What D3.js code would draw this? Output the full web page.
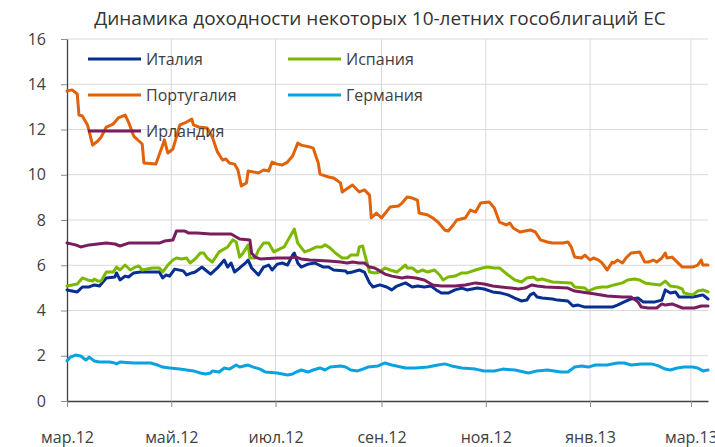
<!DOCTYPE html>
<html>
<head>
<meta charset="utf-8">
<script src="https://cdn.jsdelivr.net/npm/d3@7"></script>
<style>
  body { margin: 0; background: #fff; }
  svg { display: block; font-family: "Open Sans", sans-serif; }
</style>
</head>
<body>
<svg id="chart" width="715" height="447"></svg>
<script>
// доходности 10-летних облигаций, %
const italy = [
  ["2012-03-01",4.91],["2012-03-07",4.82],["2012-03-10",5.04],["2012-03-14",5.04],["2012-03-17",5.13],
  ["2012-03-20",5.08],["2012-03-24",5.44],["2012-03-29",5.48],["2012-03-30",5.66],["2012-04-01",5.35],
  ["2012-04-04",5.52],["2012-04-06",5.48],["2012-04-09",5.66],["2012-04-13",5.70],["2012-04-24",5.70],
  ["2012-04-26",5.44],["2012-04-28",5.57],["2012-04-30",5.52],["2012-05-03",5.83],["2012-05-08",5.75],
  ["2012-05-10",5.57],["2012-05-13",5.66],["2012-05-15",5.70],["2012-05-19",5.92],["2012-05-21",5.79],
  ["2012-05-24",5.61],["2012-05-28",5.88],["2012-06-01",6.23],["2012-06-03",5.92],["2012-06-05",6.10],
  ["2012-06-07",5.70],["2012-06-10",5.88],["2012-06-14",6.14],["2012-06-15",6.23],["2012-06-17",5.88],
  ["2012-06-21",5.57],["2012-06-24",5.92],["2012-06-27",6.01],["2012-06-29",5.79],["2012-07-02",6.05],
  ["2012-07-05",6.10],["2012-07-08",6.01],["2012-07-11",6.45],["2012-07-12",6.54],["2012-07-14",6.10],
  ["2012-07-16",5.92],["2012-07-20",6.05],["2012-07-24",6.10],["2012-07-29",5.92],["2012-08-01",5.92],
  ["2012-08-04",5.79],["2012-08-11",5.75],["2012-08-12",5.66],["2012-08-15",5.70],["2012-08-19",5.79],
  ["2012-08-22",5.70],["2012-08-25",5.22],["2012-08-27",5.04],["2012-08-31",5.13],["2012-09-04",5.04],
  ["2012-09-07",4.91],["2012-09-10",5.08],["2012-09-15",5.22],["2012-09-19",5.04],["2012-09-22",5.08],
  ["2012-09-26",5.04],["2012-09-30",5.08],["2012-10-03",4.91],["2012-10-06",4.77],["2012-10-10",4.77],
  ["2012-10-14",4.91],["2012-10-18",4.99],["2012-10-21",4.91],["2012-10-27",4.99],["2012-10-31",4.95],
  ["2012-11-05",4.82],["2012-11-10",4.77],["2012-11-14",4.69],["2012-11-18",4.55],["2012-11-22",4.42],
  ["2012-11-25",4.46],["2012-11-27",4.69],["2012-11-29",4.77],["2012-12-01",4.60],["2012-12-04",4.55],
  ["2012-12-10",4.51],["2012-12-13",4.46],["2012-12-19",4.42],["2012-12-22",4.20],["2012-12-25",4.24],
  ["2012-12-29",4.15],["2013-01-08",4.15],["2013-01-14",4.15],["2013-01-17",4.24],["2013-01-21",4.38],
  ["2013-01-25",4.51],["2013-01-29",4.55],["2013-02-01",4.38],["2013-02-08",4.38],["2013-02-12",4.46],
  ["2013-02-14",4.91],["2013-02-17",4.77],["2013-02-20",4.82],["2013-02-22",4.60],["2013-03-02",4.60],
  ["2013-03-05",4.64],["2013-03-08",4.69],["2013-03-11",4.51]
];

const spain = [
  ["2012-03-01",5.08],["2012-03-04",5.13],["2012-03-07",5.17],["2012-03-10",5.44],["2012-03-13",5.35],
  ["2012-03-16",5.30],["2012-03-17",5.39],["2012-03-19",5.30],["2012-03-21",5.30],["2012-03-24",5.70],
  ["2012-03-28",5.70],["2012-03-30",5.92],["2012-04-01",5.79],["2012-04-04",6.01],["2012-04-07",5.79],
  ["2012-04-10",5.92],["2012-04-12",5.97],["2012-04-14",5.79],["2012-04-20",5.88],["2012-04-24",5.88],
  ["2012-04-26",5.70],["2012-04-29",6.01],["2012-05-02",6.23],["2012-05-04",6.32],["2012-05-07",6.28],
  ["2012-05-10",6.32],["2012-05-12",6.10],["2012-05-15",6.28],["2012-05-18",6.54],["2012-05-20",6.54],
  ["2012-05-22",6.32],["2012-05-25",6.14],["2012-05-29",6.59],["2012-06-03",6.81],["2012-06-06",7.12],
  ["2012-06-08",7.03],["2012-06-10",6.36],["2012-06-12",6.54],["2012-06-15",6.90],["2012-06-16",6.32],
  ["2012-06-19",6.32],["2012-06-21",6.67],["2012-06-24",6.98],["2012-06-27",6.98],["2012-06-30",6.59],
  ["2012-07-02",6.67],["2012-07-06",6.81],["2012-07-09",7.20],["2012-07-12",7.60],["2012-07-14",6.98],
  ["2012-07-18",6.59],["2012-07-21",6.67],["2012-07-25",6.81],["2012-07-28",6.81],["2012-07-30",6.90],
  ["2012-08-02",6.76],["2012-08-05",6.54],["2012-08-09",6.32],["2012-08-12",6.32],["2012-08-14",6.45],
  ["2012-08-18",6.45],["2012-08-19",6.81],["2012-08-21",6.85],["2012-08-22",6.54],["2012-08-25",5.70],
  ["2012-08-28",5.66],["2012-08-31",5.70],["2012-09-03",5.88],["2012-09-06",5.79],["2012-09-10",5.70],
  ["2012-09-15",6.01],["2012-09-16",5.88],["2012-09-19",5.88],["2012-09-22",5.70],["2012-09-25",5.79],
  ["2012-09-28",5.70],["2012-10-02",5.79],["2012-10-05",5.57],["2012-10-07",5.35],["2012-10-10",5.48],
  ["2012-10-14",5.52],["2012-10-18",5.66],["2012-10-21",5.66],["2012-10-26",5.79],["2012-10-30",5.88],
  ["2012-11-02",5.92],["2012-11-06",5.88],["2012-11-09",5.88],["2012-11-14",5.57],["2012-11-18",5.35],
  ["2012-11-22",5.26],["2012-11-25",5.44],["2012-11-29",5.48],["2012-12-01",5.35],["2012-12-04",5.39],
  ["2012-12-10",5.26],["2012-12-21",5.22],["2012-12-23",5.04],["2012-12-29",4.99],["2012-12-31",4.86],
  ["2013-01-04",4.99],["2013-01-08",5.04],["2013-01-11",5.04],["2013-01-15",5.13],["2013-01-20",5.22],
  ["2013-01-23",5.35],["2013-01-27",5.39],["2013-01-30",5.35],["2013-02-02",5.22],["2013-02-06",5.17],
  ["2013-02-11",5.13],["2013-02-14",5.30],["2013-02-17",5.08],["2013-02-21",5.04],["2013-02-24",4.95],
  ["2013-02-25",4.77],["2013-03-02",4.69],["2013-03-05",4.86],["2013-03-08",4.91],["2013-03-11",4.82]
];

const portugal = [
  ["2012-03-01",13.70],["2012-03-04",13.75],["2012-03-07",13.57],["2012-03-08",12.64],["2012-03-10",12.60],
  ["2012-03-13",12.20],["2012-03-16",11.31],["2012-03-19",11.49],["2012-03-21",11.67],["2012-03-24",12.11],
  ["2012-03-28",12.24],["2012-03-31",12.51],["2012-04-04",12.64],["2012-04-06",12.33],["2012-04-09",11.71],
  ["2012-04-14",11.36],["2012-04-15",10.52],["2012-04-22",10.47],["2012-04-26",11.31],["2012-04-27",11.54],
  ["2012-04-29",10.96],["2012-05-02",11.14],["2012-05-06",12.20],["2012-05-10",12.33],["2012-05-13",12.46],
  ["2012-05-14",12.20],["2012-05-17",12.11],["2012-05-22",12.07],["2012-05-25",11.67],["2012-05-28",11.01],
  ["2012-05-31",10.65],["2012-06-02",10.70],["2012-06-04",10.52],["2012-06-07",10.47],["2012-06-09",10.21],
  ["2012-06-11",9.50],["2012-06-14",9.64],["2012-06-15",10.17],["2012-06-21",10.08],["2012-06-24",10.21],
  ["2012-06-27",10.17],["2012-06-29",10.56],["2012-07-02",10.47],["2012-07-05",10.43],["2012-07-08",10.56],
  ["2012-07-11",10.83],["2012-07-14",11.40],["2012-07-16",11.31],["2012-07-21",11.23],["2012-07-23",11.18],
  ["2012-07-26",10.52],["2012-07-27",10.03],["2012-08-01",9.90],["2012-08-04",9.86],["2012-08-08",9.64],
  ["2012-08-09",9.24],["2012-08-15",9.55],["2012-08-19",9.24],["2012-08-22",9.33],["2012-08-25",9.10],
  ["2012-08-26",8.09],["2012-08-29",8.31],["2012-09-01",8.09],["2012-09-06",8.57],["2012-09-11",8.62],
  ["2012-09-13",8.75],["2012-09-16",9.02],["2012-09-19",8.97],["2012-09-22",8.88],["2012-09-23",8.31],
  ["2012-09-28",8.22],["2012-10-01",8.09],["2012-10-04",7.91],["2012-10-08",7.56],["2012-10-10",7.51],
  ["2012-10-13",7.78],["2012-10-15",8.00],["2012-10-20",8.09],["2012-10-23",8.44],["2012-10-26",8.35],
  ["2012-10-29",8.75],["2012-11-03",8.80],["2012-11-06",8.53],["2012-11-09",7.91],["2012-11-13",7.78],
  ["2012-11-15",7.87],["2012-11-17",7.65],["2012-11-21",7.47],["2012-11-27",7.56],["2012-11-30",7.47],
  ["2012-12-03",7.12],["2012-12-07",7.03],["2012-12-10",6.98],["2012-12-16",6.98],["2012-12-19",7.03],
  ["2012-12-21",6.81],["2012-12-23",6.36],["2012-12-27",6.32],["2012-12-29",6.45],["2013-01-01",6.23],
  ["2013-01-03",6.32],["2013-01-06",6.23],["2013-01-08",6.10],["2013-01-11",5.79],["2013-01-14",6.14],
  ["2013-01-15",6.10],["2013-01-17",6.23],["2013-01-20",6.10],["2013-01-22",6.32],["2013-01-25",6.54],
  ["2013-01-30",6.59],["2013-02-02",6.14],["2013-02-04",6.14],["2013-02-07",6.23],["2013-02-09",6.14],
  ["2013-02-12",6.32],["2013-02-14",6.54],["2013-02-15",6.32],["2013-02-18",6.36],["2013-02-21",6.14],
  ["2013-02-24",5.92],["2013-03-02",5.92],["2013-03-05",6.01],["2013-03-07",6.23],["2013-03-08",6.01],
  ["2013-03-11",6.01]
];

const germany = [
  ["2012-03-01",1.77],["2012-03-03",1.94],["2012-03-06",2.03],["2012-03-09",1.99],["2012-03-12",1.81],
  ["2012-03-14",1.94],["2012-03-17",1.77],["2012-03-20",1.72],["2012-03-26",1.72],["2012-03-29",1.68],
  ["2012-03-30",1.64],["2012-04-01",1.72],["2012-04-09",1.68],["2012-04-19",1.68],["2012-04-23",1.59],
  ["2012-04-26",1.50],["2012-04-30",1.46],["2012-05-06",1.41],["2012-05-10",1.37],["2012-05-14",1.33],
  ["2012-05-18",1.24],["2012-05-21",1.19],["2012-05-24",1.24],["2012-05-25",1.33],["2012-05-29",1.28],
  ["2012-06-01",1.46],["2012-06-04",1.41],["2012-06-08",1.59],["2012-06-10",1.50],["2012-06-15",1.59],
  ["2012-06-18",1.50],["2012-06-22",1.41],["2012-06-25",1.28],["2012-07-02",1.24],["2012-07-08",1.15],
  ["2012-07-11",1.19],["2012-07-13",1.28],["2012-07-16",1.37],["2012-07-20",1.28],["2012-07-23",1.37],
  ["2012-07-27",1.46],["2012-07-30",1.37],["2012-08-02",1.50],["2012-08-08",1.55],["2012-08-11",1.50],
  ["2012-08-14",1.37],["2012-08-18",1.33],["2012-08-21",1.41],["2012-08-24",1.50],["2012-08-30",1.55],
  ["2012-09-03",1.68],["2012-09-07",1.59],["2012-09-15",1.46],["2012-09-21",1.46],["2012-09-28",1.50],
  ["2012-10-04",1.59],["2012-10-08",1.64],["2012-10-12",1.55],["2012-10-18",1.46],["2012-10-26",1.41],
  ["2012-10-31",1.33],["2012-11-06",1.33],["2012-11-11",1.41],["2012-11-18",1.37],["2012-11-26",1.24],
  ["2012-12-01",1.33],["2012-12-07",1.37],["2012-12-15",1.28],["2012-12-19",1.28],["2012-12-23",1.50],
  ["2012-12-27",1.55],["2012-12-31",1.50],["2013-01-04",1.59],["2013-01-11",1.59],["2013-01-17",1.68],
  ["2013-01-21",1.68],["2013-01-25",1.59],["2013-01-31",1.64],["2013-02-06",1.64],["2013-02-10",1.55],
  ["2013-02-14",1.41],["2013-02-17",1.37],["2013-02-21",1.46],["2013-02-25",1.50],["2013-03-02",1.50],
  ["2013-03-05",1.46],["2013-03-08",1.33],["2013-03-11",1.37]
];

const ireland = [
  ["2012-03-01",6.98],["2012-03-06",6.90],["2012-03-09",6.81],["2012-03-14",6.90],["2012-03-24",6.98],
  ["2012-03-29",6.94],["2012-04-01",6.85],["2012-04-06",6.98],["2012-04-13",6.98],["2012-04-24",6.98],
  ["2012-04-27",7.07],["2012-05-02",7.12],["2012-05-04",7.51],["2012-05-09",7.51],["2012-05-11",7.43],
  ["2012-05-16",7.43],["2012-05-24",7.38],["2012-05-31",7.38],["2012-06-05",7.38],["2012-06-07",7.29],
  ["2012-06-10",7.16],["2012-06-16",7.12],["2012-06-17",6.54],["2012-06-19",6.36],["2012-06-22",6.28],
  ["2012-07-02",6.32],["2012-07-09",6.32],["2012-07-13",6.36],["2012-07-16",6.28],["2012-07-21",6.23],
  ["2012-08-01",6.19],["2012-08-08",6.14],["2012-08-12",6.10],["2012-08-15",6.14],["2012-08-19",6.10],
  ["2012-08-22",6.10],["2012-08-25",5.92],["2012-08-28",5.88],["2012-08-31",5.75],["2012-09-03",5.61],
  ["2012-09-07",5.52],["2012-09-13",5.44],["2012-09-16",5.48],["2012-09-21",5.44],["2012-09-26",5.35],
  ["2012-10-01",5.13],["2012-10-06",5.08],["2012-10-14",5.08],["2012-10-20",5.13],["2012-10-26",5.22],
  ["2012-10-31",5.17],["2012-11-05",5.08],["2012-11-10",5.04],["2012-11-16",4.99],["2012-11-20",4.95],
  ["2012-11-24",4.99],["2012-11-28",5.13],["2012-12-01",5.08],["2012-12-06",5.04],["2012-12-19",4.99],
  ["2012-12-23",4.86],["2012-12-31",4.77],["2013-01-04",4.73],["2013-01-11",4.64],["2013-01-20",4.60],
  ["2013-01-25",4.60],["2013-01-29",4.38],["2013-01-31",4.15],["2013-02-04",4.11],["2013-02-09",4.11],
  ["2013-02-12",4.29],["2013-02-14",4.24],["2013-02-18",4.29],["2013-02-24",4.11],["2013-03-03",4.11],
  ["2013-03-07",4.20],["2013-03-11",4.20]
];

const seriesNames = ["Италия", "Испания", "Португалия", "Германия", "Ирландия"];
const seriesData = [italy, spain, portugal, germany, ireland];
const seriesColors = ["#062f91", "#7cb800", "#e2620a", "#0aa3df", "#7a1d5e"];

const xTickDates = ["2012-03-01", "2012-05-01", "2012-07-01", "2012-09-01", "2012-11-01", "2013-01-01", "2013-03-01"];
const xTickLabels = ["мар.12", "май.12", "июл.12", "сен.12", "ноя.12", "янв.13", "мар.13"];
const yTicks = [0, 2, 4, 6, 8, 10, 12, 14, 16];

const title = "Динамика доходности некоторых 10-летних гособлигаций ЕС";

const parse = d3.timeParse("%Y-%m-%d");
const svg = d3.select("#chart");

const plotLeft = 67, plotRight = 708, plotTop = 39, plotBottom = 401;

const x = d3.scaleTime()
  .domain([parse("2012-03-01"), parse("2013-03-11")])
  .range([plotLeft, plotRight]);

const y = d3.scaleLinear()
  .domain([0, 16])
  .range([plotBottom, plotTop]);

// grid
svg.append("g")
  .selectAll("line")
  .data(yTicks.slice(1))
  .enter()
  .append("line")
  .attr("x1", plotLeft)
  .attr("x2", plotRight)
  .attr("y1", d => y(d))
  .attr("y2", d => y(d))
  .attr("stroke", "#d9d9d9")
  .attr("stroke-width", 1);

svg.append("g")
  .selectAll("line")
  .data(xTickDates.slice(1))
  .enter()
  .append("line")
  .attr("x1", d => x(parse(d)))
  .attr("x2", d => x(parse(d)))
  .attr("y1", plotTop)
  .attr("y2", plotBottom)
  .attr("stroke", "#d9d9d9")
  .attr("stroke-width", 1);

// axes
const yAxis = d3.axisLeft(y)
  .tickValues(yTicks)
  .tickSize(6)
  .tickSizeOuter(0)
  .tickPadding(15);

const xAxis = d3.axisBottom(x)
  .tickValues(xTickDates.map(parse))
  .tickFormat((d, i) => xTickLabels[i])
  .tickSize(6)
  .tickSizeOuter(0)
  .tickPadding(25);

const gy = svg.append("g")
  .attr("transform", `translate(${plotLeft},0)`)
  .call(yAxis);

const gx = svg.append("g")
  .attr("transform", `translate(0,${plotBottom})`)
  .call(xAxis);

[gx, gy].forEach(g => {
  g.select(".domain").attr("stroke", "#404040").attr("stroke-width", 1.3);
  g.selectAll(".tick line").attr("stroke", "#8c8c8c");
  g.selectAll(".tick text")
    .attr("fill", "#404040")
    .style("font-size", "16px")
    .style("font-family", "'Open Sans', sans-serif");
});

// lines
const line = d3.line()
  .x(d => x(parse(d[0])))
  .y(d => y(d[1]));

svg.append("g")
  .selectAll("path")
  .data(seriesData)
  .enter()
  .append("path")
  .attr("d", d => line(d))
  .attr("fill", "none")
  .attr("stroke", (d, i) => seriesColors[i])
  .attr("stroke-width", 3)
  .attr("stroke-linejoin", "round")
  .attr("stroke-linecap", "round");

// legend
const legendPos = [[88, 59], [288, 59], [88, 95], [288, 95], [88, 131]];

const legend = svg.append("g")
  .selectAll("g")
  .data(seriesNames)
  .enter()
  .append("g")
  .attr("transform", (d, i) => `translate(${legendPos[i][0]},${legendPos[i][1]})`);

legend.append("line")
  .attr("x1", 0)
  .attr("x2", 53)
  .attr("stroke", (d, i) => seriesColors[i])
  .attr("stroke-width", 3);

legend.append("text")
  .attr("x", 58)
  .attr("dy", "0.35em")
  .attr("fill", "#404040")
  .style("font-size", "16px")
  .text(d => d);

// title
svg.append("text")
  .attr("x", 380)
  .attr("y", 25)
  .attr("text-anchor", "middle")
  .attr("fill", "#333")
  .style("font-size", "19px")
  .text(title);
</script>
</body>
</html>
